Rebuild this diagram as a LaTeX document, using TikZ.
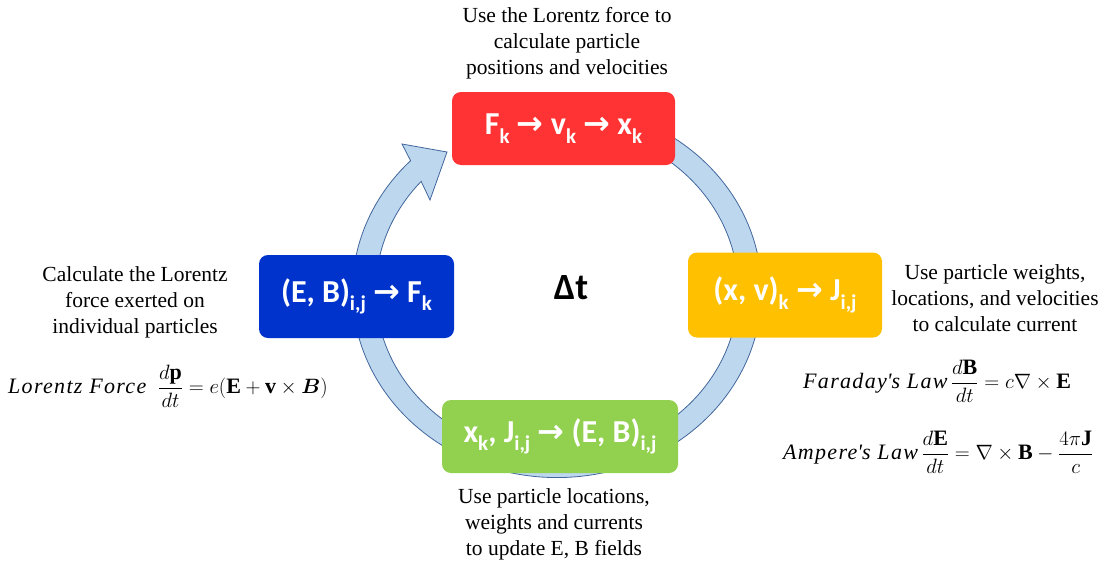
\documentclass[tikz,border=0pt]{standalone}
\usepackage{amsmath}
\usepackage{bm}
\usepackage{fontspec}
\setmainfont{Liberation Serif}
\newfontfamily\boxfont{Carlito}
\newfontfamily\arrowfont{DejaVu Sans}
\newfontfamily\eqfont{Liberation Serif}[LetterSpace=6]
\usetikzlibrary{arrows.meta}

\definecolor{boxred}{HTML}{FF3333}
\definecolor{boxblue}{HTML}{0033CC}
\definecolor{boxyellow}{HTML}{FFC000}
\definecolor{boxgreen}{HTML}{92D050}
\definecolor{ringfill}{HTML}{BDD7EE}
\definecolor{ringline}{HTML}{41669C}

\newcommand{\lowsub}[1]{\raisebox{-0.27em}{\fontsize{21}{21}\selectfont #1}}
\newcommand{\arr}{{\arrowfont\bfseries →}}
\newcommand{\lawname}[1]{\text{\eqfont\itshape #1}}

\begin{document}
\begin{tikzpicture}[x=1pt, y=-1pt,
    cyclebox/.style={rounded corners=9pt, inner sep=0pt, text=white,
      font=\boxfont\bfseries\fontsize{32}{32}\selectfont},
    note/.style={align=center, font=\fontsize{21.5}{26}\selectfont},
    eqn/.style={anchor=west, inner sep=0pt, font=\fontsize{22}{26}\selectfont}]
  \useasboundingbox (0,0) rectangle (1102,565);
  % ring: ellipse centred at (557,291), radii 193 x 176, band 6% wide
  \coordinate (wingout) at (402,144);
  \coordinate (tip) at (447,152);
  \coordinate (wingin) at (430,200);
  \filldraw[fill=ringfill, draw=ringline, line width=0.8pt]
    plot[domain=80:-224.3, samples=150] ({557+204.6*cos(\x)}, {291-186.6*sin(\x)})
    -- (wingout) -- (tip) -- (wingin)
    -- plot[domain=-221.5:80, samples=150] ({557+181.4*cos(\x)}, {291-165.4*sin(\x)})
    -- cycle;
  % the four steps
  \node[cyclebox, fill=boxred, minimum width=223pt, minimum height=73pt]
    (push) at (563.5,128.5) {F\lowsub{k} \arr{} v\lowsub{k} \arr{} x\lowsub{k}};
  \node[cyclebox, fill=boxyellow, minimum width=194pt, minimum height=85pt]
    (deposit) at (785,295) {(x, v)\lowsub{k} \arr{} J\lowsub{i,j}};
  \node[cyclebox, fill=boxgreen, minimum width=236pt, minimum height=73pt]
    (solve) at (560,436.5) {x\lowsub{k}, J\lowsub{i,j} \arr{} (E, B)\lowsub{i,j}};
  \node[cyclebox, fill=boxblue, minimum width=195pt, minimum height=83pt]
    (force) at (356.5,296.5) {(E, B)\lowsub{i,j} \arr{} F\lowsub{k}};
  \node[font=\boxfont\bfseries\fontsize{37}{37}\selectfont] (dt) at (571,288) {Δt};
  % descriptions
  \node[note] (pushnote) at (567,43) {Use the Lorentz force to\\calculate particle\\positions and velocities};
  \node[note] (forcenote) at (135,302) {Calculate the Lorentz\\force exerted on\\individual particles};
  \node[note] (depositnote) at (995,298) {Use particle weights,\\locations, and velocities\\to calculate current};
  \node[note] (solvenote) at (554,524) {Use particle locations,\\weights and currents\\to update E, B fields};
  % equations
  \node[eqn] (lorentz) at (8,386)
    {$\lawname{Lorentz Force}\;\; \dfrac{d\mathbf{p}}{dt} = e(\mathbf{E} + \mathbf{v}\times\bm{B})$};
  \node[eqn] (faraday) at (803,381)
    {$\lawname{Faraday\textquotesingle s Law}\,\dfrac{d\mathbf{B}}{dt} = c\nabla\times\mathbf{E}$};
  \node[eqn] (ampere) at (783,452)
    {$\lawname{Ampere\textquotesingle s Law}\,\dfrac{d\mathbf{E}}{dt} = \nabla\times\mathbf{B} - \dfrac{4\pi\mathbf{J}}{c}$};
\end{tikzpicture}
\end{document}
